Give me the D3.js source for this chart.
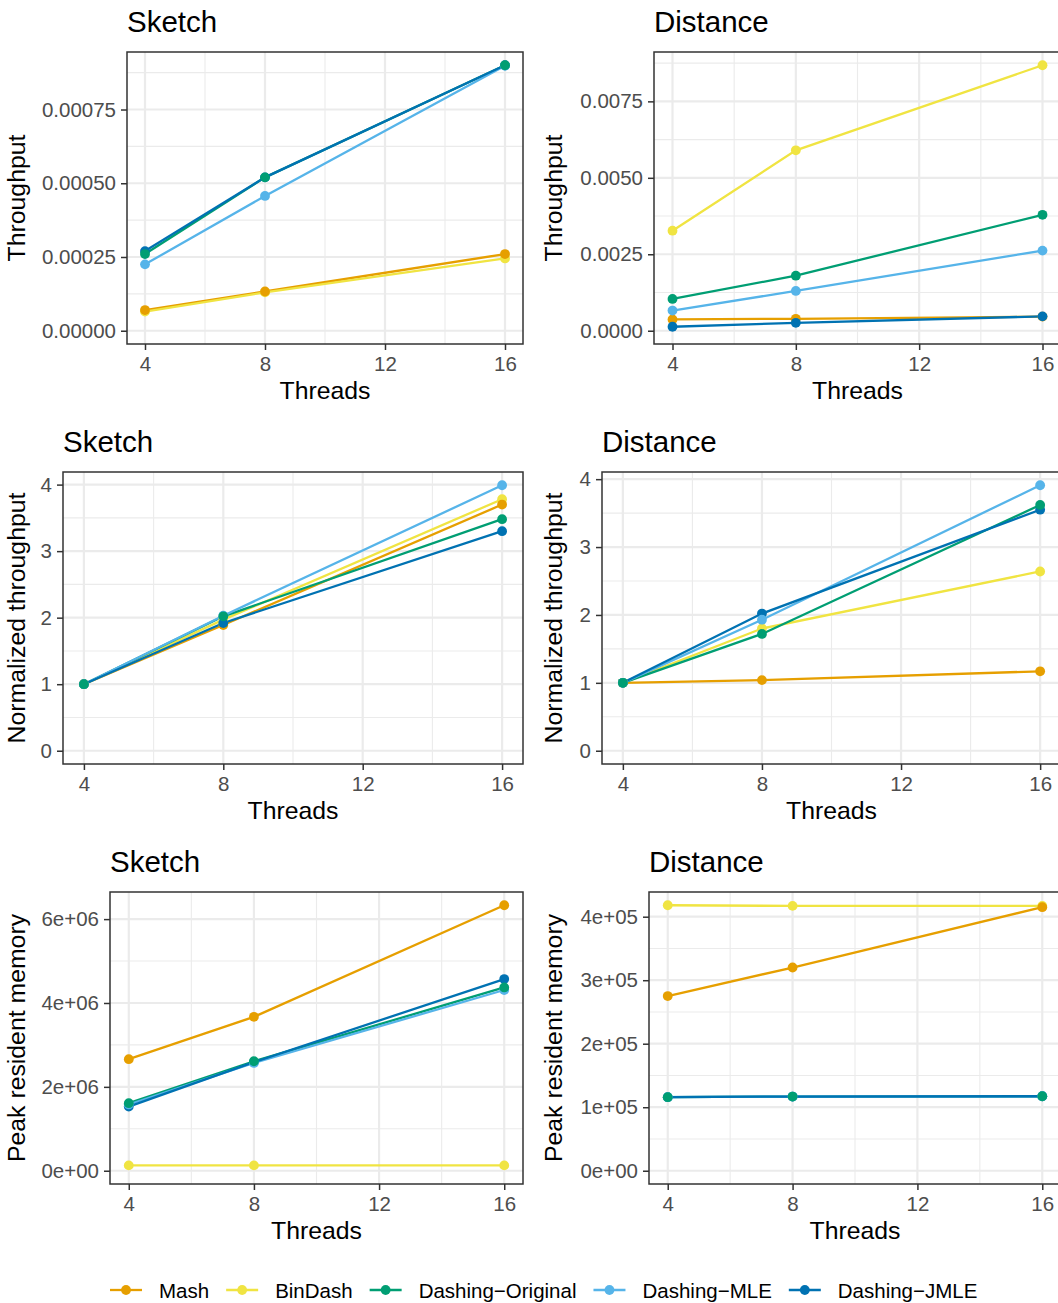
<!DOCTYPE html>
<html>
<head>
<meta charset="utf-8">
<script src="https://cdn.jsdelivr.net/npm/d3@7"></script>
<style>
  body { margin: 0; background: #fff; }
  svg { display: block; font-family: "Liberation Sans", Arial, Helvetica, sans-serif; }
</style>
</head>
<body>
<svg width="1058" height="1303"></svg>
<script>
// threads on the x axis
var threads = [4, 8, 16];

// series, in legend order
var methods = ["Mash", "BinDash", "Dashing-Original", "Dashing-MLE", "Dashing-JMLE"];
var colors = ["#E69F00", "#F0E442", "#009E73", "#56B4E9", "#0072B2"];
// points are drawn in this order (Dashing-Original ends on top)
var pointOrder = ["BinDash", "Mash", "Dashing-JMLE", "Dashing-MLE", "Dashing-Original"];

// values per method (legend order), one entry per thread count
var sketchThroughput = [
  [0.000070, 0.000133, 0.000260],
  [0.000065, 0.000130, 0.000245],
  [0.000260, 0.000520, 0.000900],
  [0.000225, 0.000457, 0.000898],
  [0.000270, 0.000520, 0.000900]
];
var distanceThroughput = [
  [0.00037, 0.00039, 0.00046],
  [0.00327, 0.00590, 0.00868],
  [0.00104, 0.00180, 0.00379],
  [0.00066, 0.00130, 0.00262],
  [0.00013, 0.00026, 0.00047]
];
var sketchNormalized = [
  [1, 1.89, 3.70],
  [1, 1.97, 3.78],
  [1, 2.02, 3.48],
  [1, 2.03, 3.99],
  [1, 1.92, 3.30]
];
var distanceNormalized = [
  [1, 1.04, 1.17],
  [1, 1.80, 2.64],
  [1, 1.72, 3.62],
  [1, 1.93, 3.91],
  [1, 2.02, 3.55]
];
var sketchMemory = [
  [2.66e6, 3.67e6, 6.33e6],
  [1.27e5, 1.27e5, 1.27e5],
  [1.61e6, 2.61e6, 4.37e6],
  [1.58e6, 2.57e6, 4.31e6],
  [1.53e6, 2.59e6, 4.57e6]
];
var distanceMemory = [
  [2.75e5, 3.20e5, 4.15e5],
  [4.18e5, 4.17e5, 4.17e5],
  [1.158e5, 1.168e5, 1.173e5],
  [1.158e5, 1.168e5, 1.173e5],
  [1.158e5, 1.168e5, 1.173e5]
];

// tick values and labels
var xTicks = [4, 8, 12, 16];
var xMinor = [6, 10, 14];
var sketchThroughputTicks = [0, 0.00025, 0.0005, 0.00075];
var sketchThroughputLabels = ["0.00000", "0.00025", "0.00050", "0.00075"];
var distanceThroughputTicks = [0, 0.0025, 0.005, 0.0075];
var distanceThroughputLabels = ["0.0000", "0.0025", "0.0050", "0.0075"];
var normalizedTicks = [0, 1, 2, 3, 4];
var normalizedLabels = ["0", "1", "2", "3", "4"];
var sketchMemoryTicks = [0, 2e6, 4e6, 6e6];
var sketchMemoryLabels = ["0e+00", "2e+06", "4e+06", "6e+06"];
var distanceMemoryTicks = [0, 1e5, 2e5, 3e5, 4e5];
var distanceMemoryLabels = ["0e+00", "1e+05", "2e+05", "3e+05", "4e+05"];

var svg = d3.select("svg");
var color = d3.scaleOrdinal().domain(methods).range(colors);

var panels = [
  { title: "Sketch",   ylab: "Throughput", values: sketchThroughput, ticks: sketchThroughputTicks, labels: sketchThroughputLabels,
    row: 0, left: 127, right: 523, ytx: 25 },
  { title: "Distance", ylab: "Throughput", values: distanceThroughput, ticks: distanceThroughputTicks, labels: distanceThroughputLabels,
    row: 0, left: 654, right: 1061, ytx: 562 },
  { title: "Sketch",   ylab: "Normalized throughput", values: sketchNormalized, ticks: normalizedTicks, labels: normalizedLabels,
    row: 1, left: 63, right: 523, ytx: 25 },
  { title: "Distance", ylab: "Normalized throughput", values: distanceNormalized, ticks: normalizedTicks, labels: normalizedLabels,
    row: 1, left: 602, right: 1061, ytx: 562 },
  { title: "Sketch",   ylab: "Peak resident memory", values: sketchMemory, ticks: sketchMemoryTicks, labels: sketchMemoryLabels,
    row: 2, left: 110, right: 523, ytx: 25 },
  { title: "Distance", ylab: "Peak resident memory", values: distanceMemory, ticks: distanceMemoryTicks, labels: distanceMemoryLabels,
    row: 2, left: 649, right: 1061, ytx: 562 }
];

var rowY = [0, 420, 840];

panels.forEach(function(p, i) {
  var top = rowY[p.row] + 52,
      bottom = rowY[p.row] + 344;

  var series = methods.map(function(m, k) {
    return { name: m, points: threads.map(function(t, j) { return { t: t, v: p.values[k][j] }; }) };
  });

  // y range always includes zero, padded 5% like ggplot
  var ymax = d3.max(p.values, function(r) { return d3.max(r); });
  var pad = ymax * 0.05;
  var y = d3.scaleLinear().domain([-pad, ymax + pad]).range([bottom, top]);
  var x = d3.scaleLinear().domain([4 - 0.6, 16 + 0.6]).range([p.left, p.right]);

  var g = svg.append("g");
  var clipId = "clip" + i;
  g.append("clipPath").attr("id", clipId)
    .append("rect").attr("x", p.left).attr("y", top)
    .attr("width", p.right - p.left).attr("height", bottom - top);

  // minor grid
  var step = p.ticks[1] - p.ticks[0];
  var yMinor = d3.range(p.ticks[0] - step / 2, ymax + pad, step)
    .filter(function(v) { return v > -pad && v < ymax + pad; });
  var grid = g.append("g").attr("clip-path", "url(#" + clipId + ")");
  grid.selectAll(".ymin").data(yMinor).enter().append("line")
    .attr("x1", p.left).attr("x2", p.right)
    .attr("y1", function(d) { return y(d); }).attr("y2", function(d) { return y(d); })
    .attr("stroke", "#EBEBEB").attr("stroke-width", 1.1);
  grid.selectAll(".xmin").data(xMinor).enter().append("line")
    .attr("y1", top).attr("y2", bottom)
    .attr("x1", function(d) { return x(d); }).attr("x2", function(d) { return x(d); })
    .attr("stroke", "#EBEBEB").attr("stroke-width", 1.1);
  // major grid
  grid.selectAll(".ymaj").data(p.ticks).enter().append("line")
    .attr("x1", p.left).attr("x2", p.right)
    .attr("y1", function(d) { return y(d); }).attr("y2", function(d) { return y(d); })
    .attr("stroke", "#EBEBEB").attr("stroke-width", 2.2);
  grid.selectAll(".xmaj").data(xTicks).enter().append("line")
    .attr("y1", top).attr("y2", bottom)
    .attr("x1", function(d) { return x(d); }).attr("x2", function(d) { return x(d); })
    .attr("stroke", "#EBEBEB").attr("stroke-width", 2.2);

  // lines then points
  var plot = g.append("g").attr("clip-path", "url(#" + clipId + ")");
  var line = d3.line().x(function(d) { return x(d.t); }).y(function(d) { return y(d.v); });
  plot.selectAll("path.series").data(series).enter().append("path")
    .attr("d", function(d) { return line(d.points); })
    .attr("fill", "none")
    .attr("stroke", function(d) { return color(d.name); })
    .attr("stroke-width", 2.3);

  var ordered = pointOrder.map(function(m) { return series[methods.indexOf(m)]; });
  plot.selectAll("g.pts").data(ordered).enter().append("g")
    .attr("fill", function(d) { return color(d.name); })
    .selectAll("circle").data(function(d) { return d.points; }).enter().append("circle")
    .attr("cx", function(d) { return x(d.t); })
    .attr("cy", function(d) { return y(d.v); })
    .attr("r", 4.9);

  // panel border
  g.append("rect")
    .attr("x", p.left).attr("y", top)
    .attr("width", p.right - p.left).attr("height", bottom - top)
    .attr("fill", "none").attr("stroke", "#333333").attr("stroke-width", 1.5);

  // axes
  var yAxis = d3.axisLeft(y).tickValues(p.ticks).tickSize(6).tickPadding(5)
    .tickFormat(function(d, k) { return p.labels[k]; });
  var xAxis = d3.axisBottom(x).tickValues(xTicks).tickSize(6).tickPadding(5)
    .tickFormat(d3.format("d"));

  var ya = g.append("g").attr("transform", "translate(" + p.left + ",0)").call(yAxis);
  var xa = g.append("g").attr("transform", "translate(0," + bottom + ")").call(xAxis);
  [ya, xa].forEach(function(a) {
    a.select(".domain").remove();
    a.selectAll(".tick line").attr("stroke", "#333333").attr("stroke-width", 1.5);
    a.selectAll(".tick text").attr("fill", "#4D4D4D").style("font-size", "20.5px")
      .style("font-family", "'Liberation Sans', Arial, sans-serif");
  });
  xa.selectAll(".tick text").attr("dy", null).attr("y", 27);

  // titles
  g.append("text")
    .attr("x", p.left).attr("y", rowY[p.row] + 32)
    .style("font-size", "29.5px").attr("fill", "#000")
    .text(p.title);
  g.append("text")
    .attr("x", (p.left + p.right) / 2)
    .attr("y", rowY[p.row] + 399)
    .attr("text-anchor", "middle")
    .style("font-size", "24.8px").attr("fill", "#000")
    .text("Threads");
  g.append("text")
    .attr("transform", "translate(" + p.ytx + "," + (top + bottom) / 2 + ") rotate(-90)")
    .attr("text-anchor", "middle")
    .style("font-size", "24.8px").attr("fill", "#000")
    .text(p.ylab);
});

// legend along the bottom
var legend = svg.append("g").attr("transform", "translate(0,1290)");
var lx = 110;
methods.forEach(function(m) {
  var item = legend.append("g").attr("transform", "translate(" + lx + ",0)");
  item.append("line").attr("x1", 0).attr("x2", 32).attr("y1", 0).attr("y2", 0)
    .attr("stroke", color(m)).attr("stroke-width", 2.3);
  item.append("circle").attr("cx", 16).attr("cy", 0).attr("r", 4.9).attr("fill", color(m));
  var t = item.append("text").attr("x", 49).attr("y", 7.5)
    .style("font-size", "20.5px").attr("fill", "#000")
    .text(m.replace("-", "\u2212"));
  lx += 49 + t.node().getComputedTextLength() + 17;
});
</script>
</body>
</html>
